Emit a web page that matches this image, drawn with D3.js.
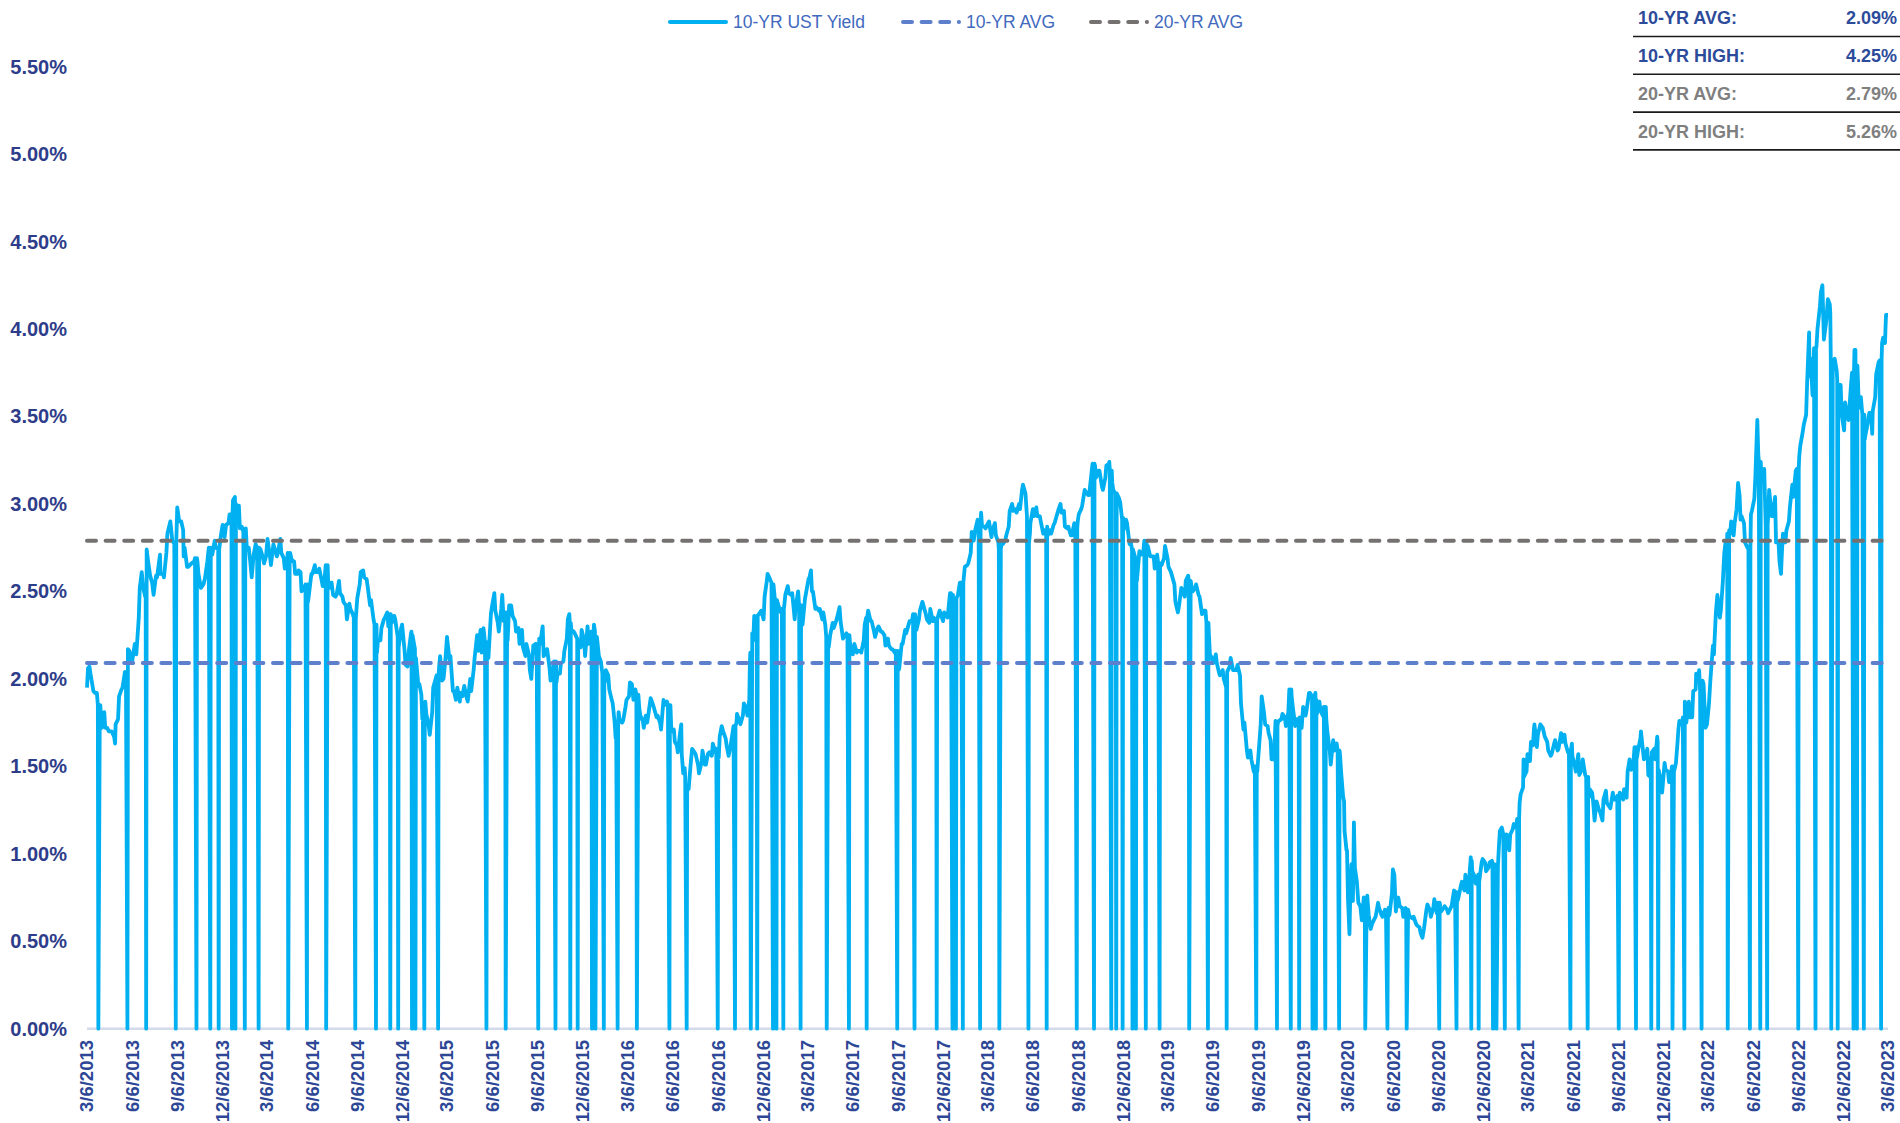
<!DOCTYPE html>
<html>
<head>
<meta charset="utf-8">
<script src="https://cdn.jsdelivr.net/npm/d3@7"></script>
<style>
  body { margin: 0; background: #fff; }
  text { font-family: "Liberation Sans", Arial, sans-serif; }
</style>
</head>
<body>
<svg width="1900" height="1123"></svg>
<script>
// 10-yr UST yield: [MM-DD, yield %]
const y2013 = [["03-06",1.95],["03-08",2.06],["03-11",2.07],["03-13",2.03],["03-19",1.93],["03-22",1.92],["03-26",1.92],["04-02",1.85],["04-05",1.72],["04-10",1.81],["04-12",1.72],["04-16",1.72],["04-19",1.70],["04-25",1.70],["04-30",1.67],["05-02",1.63],["05-03",1.74],["05-08",1.77],["05-10",1.90],["05-15",1.94],["05-17",1.95],["05-22",2.04],["05-24",2.01],["05-28",2.17],["05-31",2.16],["06-05",2.09],["06-11",2.20],["06-14",2.14],["06-19",2.35],["06-21",2.52],["06-25",2.61],["06-28",2.52],["07-02",2.47],["07-05",2.74],["07-08",2.67],["07-12",2.59],["07-16",2.55],["07-19",2.48],["07-24",2.59],["07-26",2.58],["08-01",2.71],["08-02",2.60],["08-07",2.60],["08-09",2.58],["08-14",2.72],["08-16",2.83],["08-22",2.90],["08-26",2.79],["08-28",2.78],["08-30",2.78],["09-05",2.98],["09-09",2.90],["09-13",2.90],["09-17",2.85],["09-18",2.70],["09-20",2.75],["09-25",2.64],["09-27",2.64],["10-04",2.66],["10-09",2.67],["10-11",2.69],["10-16",2.67],["10-18",2.60],["10-23",2.52],["10-28",2.54],["10-31",2.57],["11-05",2.67],["11-08",2.75],["11-13",2.72],["11-15",2.71],["11-20",2.79],["11-22",2.75],["11-27",2.74],["12-02",2.81],["12-06",2.88],["12-10",2.81],["12-13",2.88],["12-18",2.89],["12-20",2.94],["12-24",2.94],["12-27",3.02],["12-31",3.04]];
const y2014 = [["01-02",3.00],["01-06",2.96],["01-08",2.99],["01-10",2.86],["01-14",2.87],["01-17",2.84],["01-22",2.86],["01-24",2.75],["01-28",2.75],["01-31",2.67],["02-03",2.58],["02-07",2.71],["02-11",2.77],["02-14",2.75],["02-21",2.74],["02-25",2.70],["02-28",2.66],["03-04",2.70],["03-07",2.80],["03-12",2.70],["03-14",2.65],["03-19",2.77],["03-21",2.75],["03-26",2.70],["03-28",2.72],["04-02",2.80],["04-04",2.72],["04-09",2.69],["04-11",2.63],["04-15",2.64],["04-17",2.72],["04-22",2.72],["04-25",2.68],["04-30",2.67],["05-02",2.60],["05-07",2.60],["05-09",2.62],["05-13",2.61],["05-15",2.50],["05-20",2.52],["05-23",2.54],["05-28",2.44],["05-30",2.48],["06-04",2.60],["06-06",2.60],["06-11",2.65],["06-13",2.61],["06-18",2.61],["06-20",2.63],["06-25",2.56],["06-27",2.53],["07-01",2.58],["07-03",2.65],["07-08",2.56],["07-11",2.52],["07-15",2.55],["07-18",2.48],["07-23",2.47],["07-25",2.48],["07-30",2.56],["08-01",2.49],["08-06",2.47],["08-08",2.44],["08-13",2.42],["08-15",2.34],["08-20",2.43],["08-22",2.40],["08-27",2.37],["08-29",2.35],["09-05",2.46],["09-10",2.54],["09-12",2.61],["09-17",2.62],["09-19",2.58],["09-24",2.57],["09-26",2.53],["10-01",2.42],["10-03",2.45],["10-08",2.34],["10-10",2.31],["10-15",2.15],["10-17",2.22],["10-22",2.22],["10-24",2.29],["10-29",2.34],["10-31",2.35],["11-05",2.38],["11-07",2.30],["11-12",2.37],["11-14",2.32],["11-19",2.36],["11-21",2.34],["11-25",2.26],["11-28",2.18],["12-03",2.29],["12-05",2.31],["12-10",2.16],["12-12",2.08],["12-16",2.07],["12-19",2.17],["12-23",2.26],["12-26",2.25],["12-31",2.17]];
const y2015 = [["01-02",2.12],["01-07",1.96],["01-09",1.97],["01-13",1.91],["01-15",1.77],["01-16",1.83],["01-21",1.87],["01-23",1.80],["01-28",1.73],["01-30",1.68],["02-04",1.81],["02-06",1.95],["02-11",2.00],["02-13",2.02],["02-18",2.07],["02-20",2.13],["02-24",1.99],["02-27",2.00],["03-03",2.12],["03-06",2.24],["03-11",2.11],["03-13",2.13],["03-18",1.93],["03-20",1.93],["03-24",1.88],["03-27",1.95],["04-01",1.87],["04-02",1.92],["04-06",1.90],["04-10",1.96],["04-14",1.90],["04-17",1.87],["04-22",2.00],["04-24",1.93],["04-29",2.05],["05-01",2.12],["05-06",2.25],["05-08",2.16],["05-13",2.28],["05-15",2.15],["05-19",2.29],["05-22",2.21],["05-27",2.13],["05-29",2.12],["06-03",2.37],["06-05",2.41],["06-10",2.49],["06-12",2.39],["06-17",2.32],["06-19",2.27],["06-24",2.40],["06-26",2.48],["06-29",2.33],["07-02",2.38],["07-07",2.22],["07-10",2.42],["07-14",2.42],["07-17",2.36],["07-22",2.33],["07-24",2.27],["07-29",2.29],["07-31",2.20],["08-05",2.28],["08-07",2.18],["08-12",2.13],["08-14",2.20],["08-19",2.14],["08-21",2.05],["08-24",2.00],["08-28",2.19],["09-02",2.20],["09-04",2.13],["09-09",2.23],["09-11",2.20],["09-16",2.30],["09-18",2.13],["09-23",2.15],["09-25",2.17],["09-30",2.06],["10-02",1.99],["10-07",2.06],["10-09",2.10],["10-14",1.98],["10-16",2.03],["10-21",2.03],["10-23",2.09],["10-28",2.10],["10-30",2.16],["11-04",2.23],["11-06",2.34],["11-09",2.37],["11-13",2.28],["11-18",2.27],["11-20",2.26],["11-25",2.23],["11-27",2.22],["12-02",2.18],["12-04",2.28],["12-09",2.22],["12-11",2.13],["12-16",2.30],["12-18",2.20],["12-23",2.27],["12-24",2.25],["12-29",2.31],["12-31",2.27]];
const y2016 = [["01-04",2.24],["01-08",2.13],["01-12",2.10],["01-15",2.03],["01-20",1.98],["01-22",2.05],["01-27",2.02],["01-29",1.94],["02-03",1.88],["02-05",1.86],["02-09",1.75],["02-11",1.66],["02-17",1.81],["02-19",1.76],["02-24",1.75],["02-26",1.76],["03-02",1.84],["03-04",1.88],["03-09",1.90],["03-11",1.98],["03-15",1.97],["03-18",1.88],["03-22",1.94],["03-24",1.91],["03-30",1.83],["04-01",1.79],["04-06",1.76],["04-08",1.72],["04-12",1.79],["04-15",1.75],["04-20",1.85],["04-22",1.89],["04-27",1.85],["04-29",1.83],["05-04",1.78],["05-06",1.79],["05-11",1.75],["05-13",1.71],["05-18",1.88],["05-20",1.85],["05-25",1.87],["05-27",1.85],["06-01",1.85],["06-03",1.70],["06-08",1.71],["06-10",1.64],["06-14",1.62],["06-16",1.58],["06-21",1.70],["06-23",1.74],["06-24",1.57],["06-27",1.46],["06-30",1.49],["07-05",1.37],["07-08",1.37],["07-12",1.51],["07-15",1.60],["07-20",1.58],["07-22",1.57],["07-27",1.51],["07-29",1.46],["08-03",1.52],["08-05",1.59],["08-10",1.51],["08-12",1.51],["08-16",1.57],["08-19",1.58],["08-24",1.56],["08-26",1.63],["08-31",1.58],["09-02",1.60],["09-07",1.55],["09-09",1.67],["09-13",1.73],["09-16",1.70],["09-21",1.66],["09-23",1.62],["09-27",1.56],["09-30",1.60],["10-05",1.69],["10-07",1.73],["10-13",1.75],["10-14",1.80],["10-19",1.76],["10-21",1.74],["10-26",1.79],["10-28",1.86],["11-02",1.83],["11-04",1.79],["11-08",1.88],["11-09",2.07],["11-10",2.15],["11-14",2.26],["11-16",2.22],["11-18",2.36],["11-22",2.31],["11-25",2.36],["11-30",2.38],["12-02",2.39],["12-07",2.34],["12-09",2.47],["12-14",2.57],["12-15",2.60],["12-20",2.57],["12-23",2.55],["12-28",2.51],["12-30",2.45]];
const y2017 = [["01-03",2.45],["01-06",2.42],["01-11",2.38],["01-13",2.40],["01-18",2.42],["01-20",2.48],["01-25",2.53],["01-27",2.49],["02-01",2.48],["02-03",2.49],["02-08",2.34],["02-10",2.41],["02-15",2.50],["02-17",2.42],["02-22",2.42],["02-24",2.31],["03-01",2.46],["03-03",2.49],["03-08",2.57],["03-10",2.58],["03-13",2.62],["03-15",2.50],["03-17",2.50],["03-22",2.40],["03-24",2.41],["03-29",2.39],["03-31",2.40],["04-05",2.34],["04-07",2.38],["04-11",2.31],["04-13",2.24],["04-18",2.18],["04-21",2.25],["04-26",2.32],["04-28",2.29],["05-03",2.33],["05-05",2.35],["05-10",2.41],["05-12",2.33],["05-17",2.23],["05-19",2.24],["05-24",2.26],["05-26",2.25],["05-31",2.21],["06-02",2.16],["06-06",2.14],["06-09",2.20],["06-14",2.15],["06-16",2.16],["06-21",2.16],["06-23",2.15],["06-28",2.22],["06-30",2.31],["07-06",2.37],["07-07",2.39],["07-12",2.33],["07-14",2.33],["07-19",2.27],["07-21",2.24],["07-26",2.29],["07-28",2.30],["08-02",2.27],["08-04",2.27],["08-09",2.25],["08-11",2.19],["08-16",2.23],["08-18",2.19],["08-23",2.17],["08-25",2.17],["08-30",2.15],["09-01",2.16],["09-07",2.05],["09-08",2.06],["09-13",2.20],["09-15",2.20],["09-20",2.28],["09-22",2.26],["09-27",2.31],["09-29",2.33],["10-04",2.33],["10-06",2.37],["10-11",2.35],["10-13",2.28],["10-18",2.34],["10-20",2.39],["10-25",2.44],["10-27",2.42],["11-01",2.37],["11-03",2.34],["11-08",2.32],["11-10",2.40],["11-15",2.33],["11-17",2.35],["11-22",2.32],["11-24",2.34],["11-29",2.39],["12-01",2.37],["12-06",2.33],["12-08",2.38],["12-13",2.36],["12-15",2.35],["12-20",2.49],["12-22",2.49],["12-27",2.41],["12-29",2.40]];
const y2018 = [["01-02",2.46],["01-05",2.48],["01-09",2.55],["01-12",2.55],["01-17",2.58],["01-19",2.64],["01-24",2.65],["01-26",2.66],["01-31",2.72],["02-02",2.84],["02-06",2.79],["02-09",2.85],["02-14",2.91],["02-16",2.87],["02-21",2.95],["02-23",2.87],["02-28",2.87],["03-02",2.86],["03-07",2.89],["03-09",2.90],["03-14",2.81],["03-16",2.85],["03-21",2.89],["03-23",2.82],["03-28",2.78],["03-29",2.74],["04-04",2.79],["04-06",2.77],["04-11",2.79],["04-13",2.82],["04-18",2.87],["04-20",2.96],["04-25",3.00],["04-27",2.96],["05-02",2.97],["05-04",2.95],["05-09",3.00],["05-11",2.97],["05-15",3.08],["05-17",3.11],["05-22",3.06],["05-25",2.93],["05-29",2.77],["05-31",2.83],["06-01",2.89],["06-06",2.97],["06-08",2.93],["06-13",2.98],["06-15",2.93],["06-20",2.93],["06-22",2.90],["06-27",2.83],["06-29",2.85],["07-03",2.83],["07-06",2.82],["07-11",2.85],["07-13",2.83],["07-18",2.88],["07-20",2.89],["07-25",2.94],["07-27",2.96],["08-01",3.00],["08-03",2.95],["08-08",2.96],["08-10",2.87],["08-15",2.86],["08-17",2.87],["08-22",2.82],["08-24",2.82],["08-29",2.89],["08-31",2.86],["09-05",2.90],["09-07",2.94],["09-12",2.97],["09-14",2.99],["09-19",3.08],["09-21",3.07],["09-26",3.05],["09-28",3.05],["10-03",3.18],["10-05",3.23],["10-10",3.22],["10-12",3.15],["10-17",3.19],["10-19",3.19],["10-24",3.10],["10-26",3.08],["10-31",3.15],["11-02",3.22],["11-07",3.23],["11-08",3.24],["11-14",3.12],["11-16",3.08],["11-20",3.06],["11-23",3.06],["11-28",3.03],["11-30",3.01],["12-04",2.91],["12-07",2.85],["12-12",2.91],["12-14",2.89],["12-19",2.77],["12-21",2.79],["12-24",2.74],["12-28",2.72],["12-31",2.69]];
const y2019 = [["01-02",2.66],["01-03",2.56],["01-08",2.73],["01-11",2.71],["01-16",2.73],["01-18",2.79],["01-23",2.75],["01-25",2.76],["01-30",2.70],["02-01",2.70],["02-06",2.70],["02-08",2.63],["02-13",2.71],["02-15",2.66],["02-20",2.65],["02-22",2.65],["02-27",2.69],["03-01",2.76],["03-06",2.69],["03-08",2.64],["03-13",2.61],["03-15",2.59],["03-20",2.54],["03-22",2.44],["03-27",2.38],["03-29",2.41],["04-03",2.52],["04-05",2.50],["04-10",2.47],["04-12",2.56],["04-17",2.59],["04-18",2.56],["04-24",2.52],["04-26",2.50],["05-01",2.52],["05-03",2.54],["05-08",2.48],["05-10",2.47],["05-15",2.37],["05-17",2.39],["05-22",2.39],["05-24",2.32],["05-29",2.25],["05-31",2.14],["06-04",2.12],["06-07",2.09],["06-12",2.14],["06-14",2.09],["06-19",2.03],["06-20",2.02],["06-26",2.05],["06-28",2.00],["07-03",1.95],["07-05",2.04],["07-10",2.07],["07-12",2.12],["07-17",2.05],["07-19",2.05],["07-24",2.05],["07-26",2.08],["07-31",2.02],["08-02",1.86],["08-07",1.71],["08-09",1.75],["08-14",1.59],["08-16",1.55],["08-21",1.59],["08-23",1.54],["08-28",1.47],["08-30",1.50],["09-04",1.47],["09-06",1.55],["09-11",1.74],["09-13",1.90],["09-18",1.80],["09-20",1.74],["09-25",1.73],["09-27",1.69],["10-01",1.65],["10-03",1.54],["10-08",1.54],["10-11",1.76],["10-16",1.75],["10-18",1.76],["10-23",1.77],["10-25",1.80],["10-30",1.78],["11-01",1.73],["11-06",1.81],["11-08",1.94],["11-13",1.89],["11-15",1.84],["11-20",1.73],["11-22",1.77],["11-27",1.77],["11-29",1.78],["12-03",1.72],["12-06",1.84],["12-11",1.79],["12-13",1.82],["12-18",1.92],["12-20",1.92],["12-24",1.90],["12-27",1.88],["12-31",1.92]];
const y2020 = [["01-02",1.88],["01-03",1.80],["01-08",1.87],["01-10",1.82],["01-15",1.79],["01-17",1.84],["01-22",1.77],["01-24",1.70],["01-29",1.59],["01-31",1.51],["02-05",1.65],["02-07",1.59],["02-12",1.63],["02-14",1.59],["02-19",1.56],["02-21",1.47],["02-25",1.33],["02-27",1.30],["02-28",1.13],["03-03",1.02],["03-04",1.02],["03-06",0.74],["03-09",0.54],["03-11",0.82],["03-13",0.94],["03-16",0.73],["03-18",1.18],["03-20",0.92],["03-24",0.84],["03-27",0.72],["03-31",0.70],["04-03",0.62],["04-07",0.75],["04-09",0.73],["04-14",0.76],["04-17",0.65],["04-21",0.57],["04-24",0.60],["04-29",0.63],["05-01",0.64],["05-06",0.72],["05-08",0.69],["05-13",0.65],["05-15",0.64],["05-20",0.68],["05-22",0.66],["05-27",0.69],["05-29",0.65],["06-03",0.77],["06-05",0.91],["06-08",0.88],["06-11",0.67],["06-16",0.75],["06-19",0.70],["06-24",0.69],["06-26",0.64],["07-01",0.69],["07-02",0.68],["07-08",0.65],["07-10",0.64],["07-15",0.63],["07-17",0.64],["07-22",0.60],["07-24",0.59],["07-29",0.58],["07-31",0.55],["08-04",0.52],["08-07",0.57],["08-12",0.68],["08-14",0.71],["08-19",0.68],["08-21",0.64],["08-26",0.69],["08-28",0.74],["09-02",0.66],["09-04",0.72],["09-09",0.70],["09-11",0.67],["09-16",0.69],["09-18",0.70],["09-23",0.68],["09-25",0.66],["09-30",0.69],["10-02",0.70],["10-07",0.79],["10-09",0.78],["10-14",0.73],["10-16",0.75],["10-21",0.82],["10-23",0.84],["10-28",0.79],["10-30",0.88],["11-04",0.78],["11-06",0.83],["11-10",0.98],["11-13",0.90],["11-18",0.87],["11-20",0.83],["11-25",0.88],["11-27",0.84],["12-02",0.95],["12-04",0.97],["12-09",0.95],["12-11",0.90],["12-16",0.92],["12-18",0.95],["12-23",0.96],["12-24",0.94],["12-30",0.93],["12-31",0.93]];
const y2021 = [["01-04",0.93],["01-06",1.04],["01-08",1.13],["01-12",1.15],["01-15",1.11],["01-20",1.10],["01-22",1.11],["01-27",1.02],["01-29",1.11],["02-03",1.14],["02-05",1.17],["02-10",1.15],["02-12",1.20],["02-17",1.29],["02-19",1.34],["02-24",1.38],["02-25",1.54],["02-26",1.44],["03-03",1.47],["03-05",1.57],["03-10",1.53],["03-12",1.64],["03-16",1.62],["03-18",1.71],["03-19",1.74],["03-24",1.61],["03-26",1.68],["03-31",1.74],["04-05",1.72],["04-09",1.67],["04-14",1.64],["04-16",1.59],["04-21",1.56],["04-23",1.57],["04-28",1.63],["04-30",1.65],["05-05",1.59],["05-07",1.60],["05-12",1.69],["05-14",1.64],["05-19",1.68],["05-21",1.63],["05-26",1.58],["05-28",1.59],["06-03",1.63],["06-04",1.56],["06-09",1.50],["06-11",1.47],["06-16",1.57],["06-18",1.45],["06-23",1.48],["06-25",1.54],["06-30",1.45],["07-02",1.44],["07-07",1.32],["07-09",1.37],["07-14",1.35],["07-16",1.30],["07-19",1.19],["07-23",1.30],["07-28",1.25],["07-30",1.24],["08-04",1.19],["08-06",1.31],["08-11",1.36],["08-13",1.29],["08-18",1.27],["08-20",1.26],["08-25",1.35],["08-27",1.31],["09-01",1.31],["09-03",1.33],["09-08",1.35],["09-10",1.34],["09-15",1.31],["09-17",1.37],["09-22",1.32],["09-24",1.47],["09-28",1.54],["10-01",1.48],["10-06",1.53],["10-08",1.61],["10-13",1.55],["10-15",1.59],["10-20",1.66],["10-21",1.70],["10-27",1.54],["10-29",1.55],["11-03",1.60],["11-05",1.45],["11-09",1.44],["11-12",1.58],["11-17",1.60],["11-19",1.54],["11-23",1.67],["11-26",1.48],["12-01",1.41],["12-03",1.35],["12-08",1.52],["12-10",1.48],["12-15",1.47],["12-17",1.41],["12-20",1.43],["12-23",1.50],["12-28",1.48],["12-31",1.52]];
const y2022 = [["01-03",1.63],["01-05",1.71],["01-07",1.76],["01-12",1.74],["01-14",1.78],["01-18",1.87],["01-21",1.75],["01-26",1.87],["01-28",1.78],["02-02",1.78],["02-04",1.93],["02-09",1.94],["02-10",2.03],["02-14",1.99],["02-16",2.05],["02-18",1.93],["02-23",1.99],["02-25",1.97],["03-01",1.72],["03-04",1.74],["03-08",1.86],["03-11",2.00],["03-16",2.19],["03-18",2.14],["03-22",2.38],["03-25",2.48],["03-30",2.35],["04-01",2.39],["04-05",2.55],["04-08",2.72],["04-11",2.79],["04-13",2.70],["04-14",2.83],["04-18",2.85],["04-20",2.83],["04-22",2.90],["04-27",2.82],["04-29",2.89],["05-03",2.97],["05-06",3.12],["05-09",3.05],["05-11",2.91],["05-13",2.93],["05-18",2.89],["05-20",2.78],["05-25",2.75],["05-27",2.74],["06-01",2.94],["06-03",2.96],["06-08",3.03],["06-10",3.15],["06-14",3.48],["06-16",3.28],["06-17",3.25],["06-22",3.16],["06-24",3.13],["06-28",3.20],["06-30",2.98],["07-01",2.88],["07-06",2.93],["07-08",3.08],["07-13",2.93],["07-15",2.93],["07-20",3.04],["07-22",2.78],["07-27",2.78],["07-29",2.67],["08-01",2.60],["08-03",2.73],["08-05",2.83],["08-10",2.78],["08-12",2.85],["08-17",2.90],["08-19",2.98],["08-24",3.11],["08-26",3.04],["08-31",3.19],["09-02",3.20],["09-07",3.27],["09-09",3.33],["09-14",3.41],["09-16",3.45],["09-21",3.51],["09-23",3.69],["09-27",3.98],["09-28",3.73],["09-30",3.83],["10-04",3.62],["10-07",3.89],["10-12",3.90],["10-14",4.00],["10-19",4.13],["10-21",4.21],["10-24",4.25],["10-26",4.04],["10-27",3.94],["11-01",4.05],["11-04",4.17],["11-08",4.14],["11-09",4.09],["11-10",3.82],["11-15",3.80],["11-18",3.83],["11-22",3.76],["11-25",3.68],["11-30",3.68],["12-02",3.51],["12-07",3.42],["12-09",3.58],["12-13",3.50],["12-16",3.48],["12-21",3.68],["12-23",3.75],["12-28",3.88],["12-30",3.88]];
const y2023 = [["01-03",3.79],["01-06",3.55],["01-10",3.61],["01-13",3.51],["01-18",3.37],["01-19",3.39],["01-24",3.46],["01-27",3.52],["01-31",3.52],["02-02",3.40],["02-03",3.53],["02-08",3.61],["02-10",3.74],["02-15",3.81],["02-17",3.82],["02-22",3.92],["02-24",3.95],["02-28",3.92],["03-01",4.01],["03-02",4.08],["03-06",4.08]];

// market holidays, plotted as 0; second value = level the line drops from
const holidays = [
  ["2013-03-29",1.85],["2013-05-27",2.01],["2013-07-04",2.50],["2013-09-02",2.78],["2013-10-14",2.69],["2013-11-11",2.75],["2013-11-28",2.74],["2013-12-25",2.94],
  ["2014-01-01",3.04],["2014-01-20",2.82],["2014-02-17",2.75],["2014-04-18",2.72],["2014-05-26",2.54],["2014-07-04",2.65],["2014-09-01",2.34],["2014-10-13",2.31],["2014-11-11",2.37],["2014-11-27",2.24],["2014-12-25",2.27],
  ["2015-01-01",2.17],["2015-01-19",1.83],["2015-02-16",2.02],["2015-05-25",2.21],["2015-07-03",2.38],["2015-09-07",2.13],["2015-10-12",2.10],["2015-11-11",2.32],["2015-11-26",2.24],["2015-12-25",2.25],
  ["2016-01-01",2.27],["2016-01-18",2.03],["2016-02-15",1.74],["2016-03-25",1.91],["2016-05-30",1.85],["2016-07-04",1.44],["2016-09-05",1.60],["2016-10-10",1.73],["2016-11-11",2.15],["2016-11-24",2.36],["2016-12-26",2.54],
  ["2017-01-02",2.45],["2017-01-16",2.40],["2017-02-20",2.42],["2017-04-14",2.24],["2017-05-29",2.25],["2017-07-04",2.35],["2017-09-04",2.16],["2017-10-09",2.37],["2017-11-23",2.33],["2017-12-25",2.48],
  ["2018-01-01",2.40],["2018-01-15",2.55],["2018-02-19",2.87],["2018-03-30",2.74],["2018-05-28",2.93],["2018-07-04",2.87],["2018-09-03",2.86],["2018-10-08",3.23],["2018-11-12",3.19],["2018-11-22",3.06],["2018-12-05",2.92],["2018-12-25",2.74],
  ["2019-01-01",2.69],["2019-01-21",2.79],["2019-02-18",2.66],["2019-04-19",2.56],["2019-05-27",2.32],["2019-07-04",1.96],["2019-09-02",1.50],["2019-10-14",1.73],["2019-11-11",1.94],["2019-11-28",1.77],["2019-12-25",1.90],
  ["2020-01-01",1.92],["2020-01-20",1.84],["2020-02-17",1.59],["2020-04-10",0.73],["2020-05-25",0.66],["2020-07-03",0.68],["2020-09-07",0.72],["2020-10-12",0.78],["2020-11-11",0.96],["2020-11-26",0.88],["2020-12-25",0.94],
  ["2021-01-01",0.93],["2021-01-18",1.11],["2021-02-15",1.20],["2021-05-31",1.59],["2021-07-05",1.44],["2021-09-06",1.33],["2021-10-11",1.61],["2021-11-11",1.55],["2021-11-25",1.64],["2021-12-24",1.50],
  ["2022-01-17",1.78],["2022-02-21",1.93],["2022-04-15",2.83],["2022-05-30",2.74],["2022-06-20",3.24],["2022-07-04",2.88],["2022-09-05",3.20],["2022-10-10",3.89],["2022-11-11",3.82],["2022-11-24",3.71],["2022-12-26",3.75],
  ["2023-01-02",3.88],["2023-01-16",3.51],["2023-02-20",3.82]
];

const avg10 = 2.09;
const avg20 = 2.79;
const yTicks = [0, 0.5, 1, 1.5, 2, 2.5, 3, 3.5, 4, 4.5, 5, 5.5];
const tickMonths = [3, 6, 9, 12];
const tableLabels = ["10-YR AVG:", "10-YR HIGH:", "20-YR AVG:", "20-YR HIGH:"];
const tableValues = ["2.09%", "4.25%", "2.79%", "5.26%"];
const legendNames = ["10-YR UST Yield", "10-YR AVG", "20-YR AVG"];

const parseDay = d3.timeParse("%Y-%m-%d");
const byYear = {2013: y2013, 2014: y2014, 2015: y2015, 2016: y2016, 2017: y2017, 2018: y2018, 2019: y2019, 2020: y2020, 2021: y2021, 2022: y2022, 2023: y2023};

// build the series
const pts = new Map();
Object.entries(byYear).forEach(([yr, arr]) => {
  arr.forEach(([md, v]) => {
    const dt = parseDay(`${yr}-${md}`);
    pts.set(+dt, {date: dt, v: v});
  });
});
function stepBD(dt, dir) {
  let d = d3.timeDay.offset(dt, dir);
  while (d.getDay() === 0 || d.getDay() === 6) d = d3.timeDay.offset(d, dir);
  return d;
}
holidays.forEach(([ds, v]) => {
  const dt = parseDay(ds);
  [stepBD(dt, -1), stepBD(dt, 1)].forEach(n => {
    if (!pts.has(+n)) pts.set(+n, {date: n, v: v});
  });
});
holidays.forEach(([ds]) => {
  const dt = parseDay(ds);
  pts.set(+dt, {date: dt, v: 0});
});
const series = Array.from(pts.values()).sort((a, b) => a.date - b.date);

const svg = d3.select("svg");
svg.append("rect").attr("width", 1900).attr("height", 1123).attr("fill", "#fff");

const startDate = parseDay("2013-03-06");
const endDate = parseDay("2023-03-06");
const xScale = d3.scaleTime().domain([startDate, endDate]).range([87, 1888]);
const yScale = d3.scaleLinear().domain([0, 5.5]).range([1028.7, 66.6]);

// y labels
svg.append("g")
  .selectAll("text")
  .data(yTicks)
  .enter()
  .append("text")
  .attr("x", 67)
  .attr("y", d => yScale(d))
  .attr("dy", "0.35em")
  .attr("text-anchor", "end")
  .attr("font-size", 20)
  .attr("font-weight", "bold")
  .attr("fill", "#2E3D8A")
  .text(d => d3.format(".2f")(d) + "%");

// baseline
svg.append("line")
  .attr("x1", 87).attr("x2", 1888)
  .attr("y1", yScale(0)).attr("y2", yScale(0))
  .attr("stroke", "#D3DAEA").attr("stroke-width", 2.5);

// x labels
const tickDates = [];
for (let yr = 2013; yr <= 2023; yr++) {
  tickMonths.forEach(m => {
    const dt = new Date(yr, m - 1, 6);
    if (dt >= startDate && dt <= endDate) tickDates.push(dt);
  });
}
svg.append("g")
  .selectAll("text")
  .data(tickDates)
  .enter()
  .append("text")
  .attr("transform", d => `translate(${xScale(d)},1040) rotate(-90)`)
  .attr("dy", "0.35em")
  .attr("text-anchor", "end")
  .attr("font-size", 18.5)
  .attr("font-weight", "bold")
  .attr("fill", "#2D4796")
  .text(d => `${d.getMonth() + 1}/${d.getDate()}/${d.getFullYear()}`);

// yield line
const line = d3.line().x(d => xScale(d.date)).y(d => yScale(d.v));
svg.append("path")
  .datum(series)
  .attr("d", line)
  .attr("fill", "none")
  .attr("stroke", "#00B0F0")
  .attr("stroke-width", 3.8)
  .attr("stroke-linejoin", "round");

// average lines
const dash = "9 9.6";
[[avg10, "#5E7FCC"], [avg20, "#767171"]].forEach(([v, c]) => {
  svg.append("line")
    .attr("x1", 87).attr("x2", 1888)
    .attr("y1", yScale(v)).attr("y2", yScale(v))
    .attr("stroke", c).attr("stroke-width", 4)
    .attr("stroke-dasharray", dash).attr("stroke-linecap", "round");
});

// legend
const legendX = [668, 901, 1089];
const legendColors = ["#00B0F0", "#5E7FCC", "#767171"];
const lg = svg.append("g");
legendNames.forEach((name, i) => {
  const ln = lg.append("line")
    .attr("x1", legendX[i] + 2).attr("x2", legendX[i] + 58)
    .attr("y1", 22).attr("y2", 22)
    .attr("stroke", legendColors[i]).attr("stroke-width", 4)
    .attr("stroke-linecap", "round");
  if (i > 0) ln.attr("stroke-dasharray", dash);
  lg.append("text")
    .attr("x", legendX[i] + 65).attr("y", 22)
    .attr("dy", "0.35em")
    .attr("font-size", 17.5)
    .attr("fill", "#4169BE")
    .text(name);
});

// stats table, top right
const tableColors = ["#2D4B9B", "#2D4B9B", "#7F7F7F", "#7F7F7F"];
const tb = svg.append("g");
tableLabels.forEach((lab, i) => {
  const cy = 18 + i * 37.8;
  tb.append("text")
    .attr("x", 1638).attr("y", cy).attr("dy", "0.35em")
    .attr("font-size", 18).attr("font-weight", "bold")
    .attr("fill", tableColors[i]).text(lab);
  tb.append("text")
    .attr("x", 1897).attr("y", cy).attr("dy", "0.35em")
    .attr("text-anchor", "end")
    .attr("font-size", 18).attr("font-weight", "bold")
    .attr("fill", tableColors[i]).text(tableValues[i]);
  tb.append("line")
    .attr("x1", 1633).attr("x2", 1900)
    .attr("y1", cy + 18.5).attr("y2", cy + 18.5)
    .attr("stroke", "#1A1A1A").attr("stroke-width", 1.6);
});
</script>
</body>
</html>
